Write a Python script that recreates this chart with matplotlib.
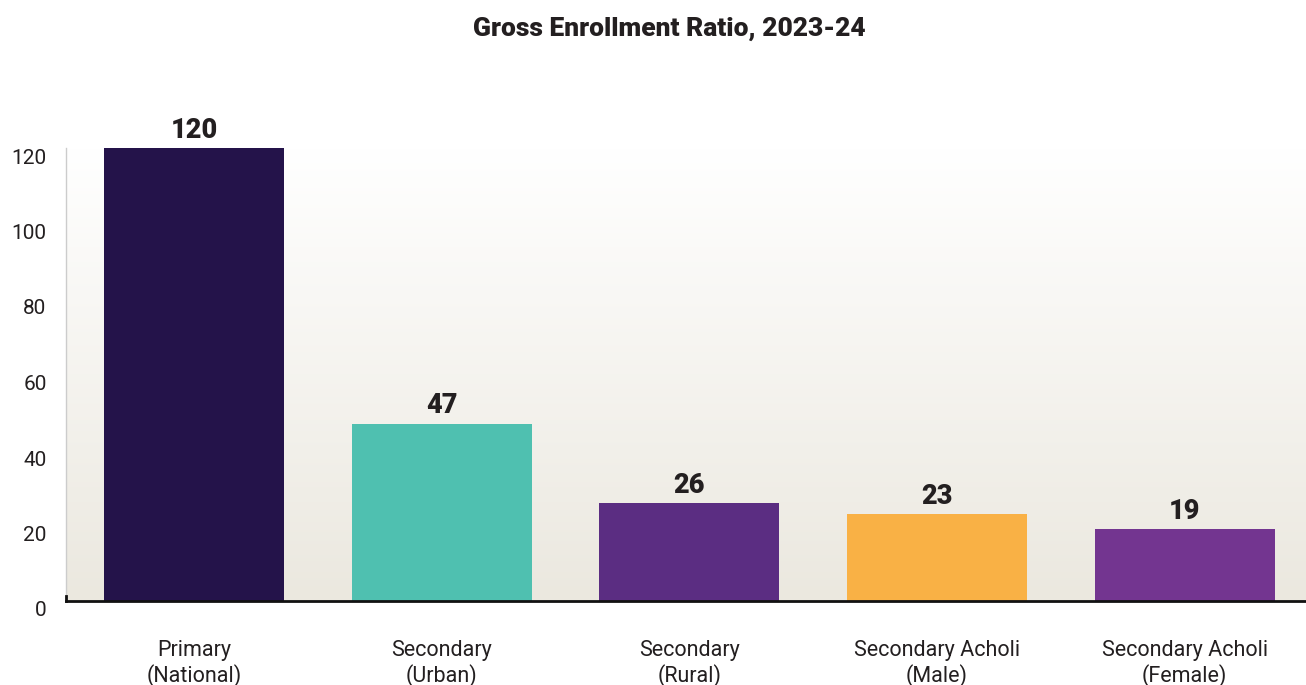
import numpy as np
import matplotlib.pyplot as plt
from matplotlib.colors import LinearSegmentedColormap
from matplotlib.transforms import ScaledTranslation

plt.rcParams['font.family'] = ['Roboto', 'DejaVu Sans']

# Данные
categories = ['Primary\n(National)', 'Secondary\n(Urban)', 'Secondary\n(Rural)',
              'Secondary Acholi\n(Male)', 'Secondary Acholi\n(Female)']
values = [120, 47, 26, 23, 19]
colors = ['#24134a', '#4fc0b0', '#5b2d82', '#f9b145', '#733590']

fig = plt.figure(figsize=(13.06, 6.85), dpi=100)
ax = fig.add_axes([66 / 1306, 1 - 601 / 685, 1240 / 1306, 453 / 685])

# Фон с градиентом
grad = LinearSegmentedColormap.from_list('bg', ['#ffffff', '#ebe8df'])
ax.imshow(np.linspace(0, 1, 256).reshape(-1, 1), cmap=grad, aspect='auto',
          extent=[0, 1, 0, 1], transform=ax.transAxes, zorder=0)

x = np.arange(len(values))
ax.bar(x, values, width=0.727, color=colors, zorder=2)

for xi, v in zip(x, values):
    ax.annotate(str(v), (xi, v), xytext=(0, 3), textcoords='offset points',
                ha='center', va='bottom', fontsize=19.5, fontweight='black', color='#231f20')

ax.set_xlim(-0.517, 4.49)
ax.set_ylim(0, 120)
ax.set_yticks([0, 20, 40, 60, 80, 100, 120])
ax.set_xticks(x)
ax.set_xticklabels(categories, fontsize=15.5, color='#231f20', linespacing=1.2)
ax.tick_params(axis='x', length=0, pad=28)
ax.tick_params(axis='y', length=0, pad=14, labelsize=15, labelcolor='#231f20')
for lbl in ax.get_yticklabels():
    lbl.set_transform(lbl.get_transform() + ScaledTranslation(0, -8 / 100, fig.dpi_scale_trans))

for s in ['top', 'right']:
    ax.spines[s].set_visible(False)
ax.spines['left'].set_color('#cccccc')
ax.spines['left'].set_linewidth(1)
ax.spines['bottom'].set_color('#111111')
ax.spines['bottom'].set_linewidth(2)
ax.spines['bottom'].set_zorder(3)
ax.plot([0, 0], [0, 0.012], transform=ax.transAxes, color='#111111', lw=2,
        clip_on=False, zorder=3)

fig.text(669 / 1306, 1 - 29 / 685, 'Gross Enrollment Ratio, 2023-24', ha='center', va='center',
         fontsize=19, fontweight='black', color='#231f20')

fig.savefig('out.png', dpi=100)
